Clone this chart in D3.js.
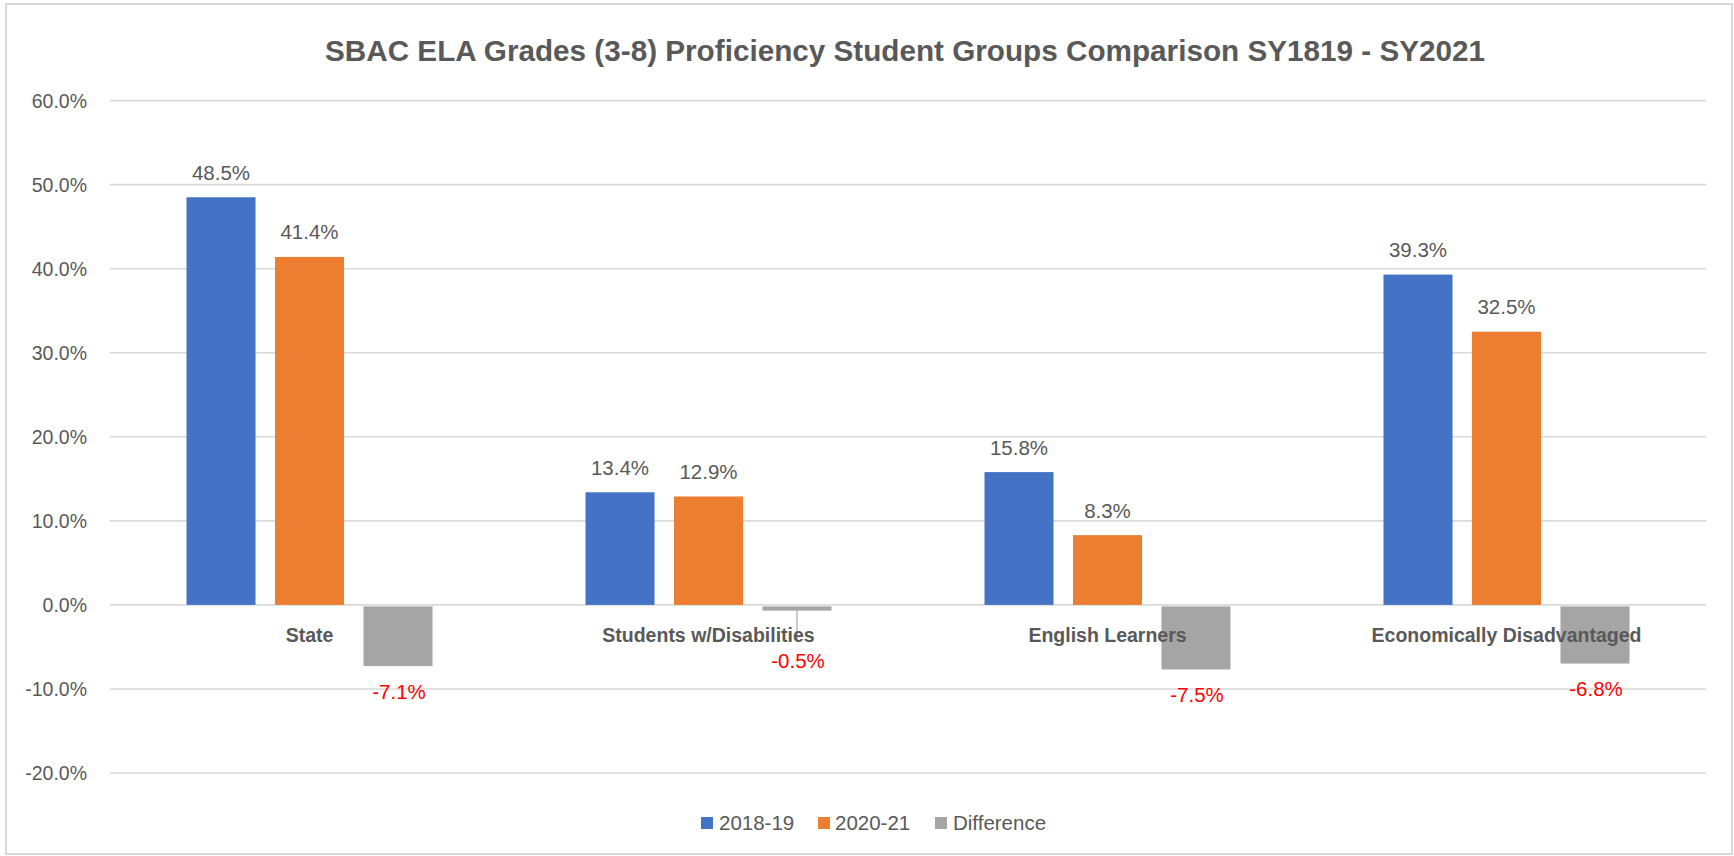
<!DOCTYPE html>
<html>
<head>
<meta charset="utf-8">
<script src="https://cdn.jsdelivr.net/npm/d3@7"></script>
<style>
  html, body { margin: 0; padding: 0; background: #fff; }
  svg { display: block; }
  text { font-family: "Liberation Sans", Arial, sans-serif; }
</style>
</head>
<body>
<script>
const categories = ["State", "Students w/Disabilities", "English Learners", "Economically Disadvantaged"];
const seriesNames = ["2018-19", "2020-21", "Difference"];
const values2018 = [48.5, 13.4, 15.8, 39.3];
const values2021 = [41.4, 12.9, 8.3, 32.5];
const valuesDiff = [-7.1, -0.5, -7.5, -6.8];
const yTickValues = [-20, -10, 0, 10, 20, 30, 40, 50, 60];
const seriesColors = ["#4472C4", "#ED7D31", "#A5A5A5"];
const titleText = "SBAC ELA Grades (3-8) Proficiency Student Groups Comparison SY1819 - SY2021";

const W = 1734, H = 856;
const plot = { left: 110, right: 1706, top: 100.6, bottom: 773 };
const textColor = "#595959";
const gridColor = "#D9D9D9";

const seriesData = [values2018, values2021, valuesDiff];
const fmtPct = v => d3.format(".1f")(v).replace("\u2212", "-") + "%";

const svg = d3.select("body").append("svg").attr("width", W).attr("height", H);

// chart border
svg.append("rect").attr("x", 6).attr("y", 4).attr("width", 1726).attr("height", 850)
  .attr("fill", "#fff").attr("stroke", gridColor).attr("stroke-width", 2);

// title
svg.append("text").attr("x", 905).attr("y", 61)
  .attr("text-anchor", "middle")
  .attr("font-size", 29).attr("font-weight", "bold").attr("fill", textColor)
  .attr("textLength", 1160).attr("lengthAdjust", "spacingAndGlyphs")
  .text(titleText);

const y = d3.scaleLinear().domain([-20, 60]).range([plot.bottom, plot.top]);
const x0 = d3.scaleBand().domain(categories).range([plot.left, plot.right]).paddingInner(0).paddingOuter(0);
const outerPad = 76.5;
const x1 = d3.scaleBand().domain(seriesNames).range([outerPad, x0.bandwidth() - outerPad]).paddingInner(0.22).paddingOuter(0);

// gridlines
svg.append("g").selectAll("line").data(yTickValues).join("line")
  .attr("x1", plot.left).attr("x2", plot.right)
  .attr("y1", d => y(d)).attr("y2", d => y(d))
  .attr("stroke", gridColor).attr("stroke-width", 1.6);

// y axis labels
const yAxis = d3.axisLeft(y).tickValues(yTickValues).tickSize(0).tickPadding(0)
  .tickFormat(fmtPct);
const yg = svg.append("g").attr("transform", `translate(87,0)`).call(yAxis);
yg.select(".domain").remove();
yg.selectAll("text").attr("font-size", 19.5).attr("fill", textColor)
  .attr("font-family", "Liberation Sans, Arial, sans-serif").attr("dy", "0.35em");

// bars
const groups = svg.append("g").selectAll("g").data(categories).join("g")
  .attr("transform", d => `translate(${x0(d)},0)`);

const barData = (c, i) => seriesNames.map((s, j) => ({ cat: c, series: s, j, value: seriesData[j][i] }));

groups.selectAll("rect").data((c, i) => barData(c, i)).join("rect")
  .attr("x", d => x1(d.series))
  .attr("width", x1.bandwidth())
  .attr("y", d => d.value >= 0 ? y(d.value) : y(0) + 1.5)
  .attr("height", d => d.value >= 0 ? y(0) - y(d.value) : y(d.value) - y(0))
  .attr("fill", d => seriesColors[d.j]);

// category labels
svg.append("g").selectAll("text").data(categories).join("text")
  .attr("x", d => x0(d) + x0.bandwidth() / 2)
  .attr("y", 641.5)
  .attr("text-anchor", "middle")
  .attr("font-size", 19.5).attr("font-weight", "bold").attr("fill", textColor)
  .text(d => d);

// data labels
const minNegBaseline = 668;
groups.each(function (c, i) {
  const g = d3.select(this);
  barData(c, i).forEach(d => {
    const cx = x1(d.series) + x1.bandwidth() / 2;
    const label = fmtPct(d.value);
    if (d.value >= 0) {
      g.append("text").attr("x", cx).attr("y", y(d.value) - 17.5)
        .attr("text-anchor", "middle").attr("font-size", 20.5).attr("fill", textColor)
        .text(label);
    } else {
      const natural = y(d.value) + 34;
      const base = Math.max(natural, minNegBaseline);
      if (base > natural) {
        g.append("line").attr("x1", cx).attr("x2", cx)
          .attr("y1", y(d.value) + 1).attr("y2", 642)
          .attr("stroke", "#A6A6A6").attr("stroke-width", 1.2);
      }
      g.append("text").attr("x", cx + 1).attr("y", base)
        .attr("text-anchor", "middle").attr("font-size", 20.5).attr("fill", "#FF0000")
        .text(label);
    }
  });
});

// legend
const legendItems = [
  { name: seriesNames[0], sx: 701, tx: 719 },
  { name: seriesNames[1], sx: 818, tx: 835 },
  { name: seriesNames[2], sx: 935, tx: 953 }
];
const lg = svg.append("g");
legendItems.forEach((it, j) => {
  lg.append("rect").attr("x", it.sx).attr("y", 817).attr("width", 12).attr("height", 12)
    .attr("fill", seriesColors[j]);
  lg.append("text").attr("x", it.tx).attr("y", 830)
    .attr("font-size", 20.5).attr("fill", textColor).text(it.name);
});
</script>
</body>
</html>
